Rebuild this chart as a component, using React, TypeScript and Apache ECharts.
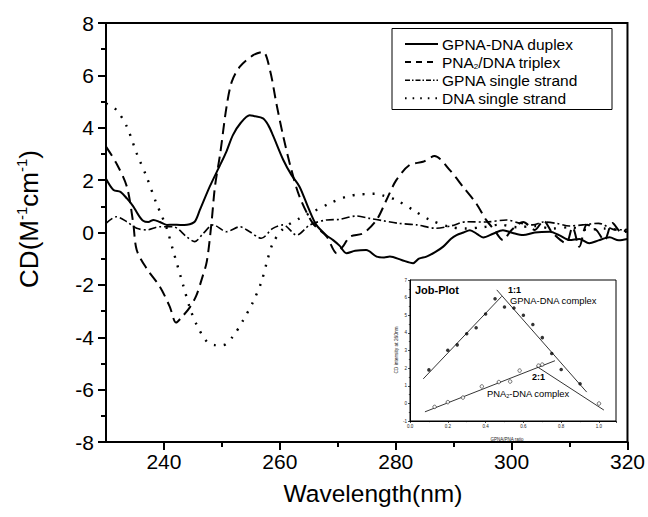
import React, { useEffect, useRef } from 'react';
import * as echarts from 'echarts';

// ---------- Main CD spectra data ----------
const xMajorTicks = [240, 260, 280, 300, 320];
const xMinorTicks = [250, 270, 290, 310];
const seriesNames = ['GPNA-DNA duplex', 'PNA2/DNA triplex', 'GPNA single strand', 'DNA single strand'];

const duplex: number[][] = [
  [230, 2.05], [231.3, 1.62], [232.5, 1.55], [233.6, 1.3], [234.7, 1.0], [235.5, 0.7], [236.4, 0.45],
  [237.3, 0.4], [238.2, 0.48], [239.3, 0.4], [240.5, 0.29], [241.6, 0.3], [242.8, 0.29], [244, 0.3],
  [245.3, 0.41], [246.2, 0.86], [247.9, 1.75], [249.7, 2.58], [250.8, 3.1], [251.9, 3.72], [253.3, 4.2],
  [254.8, 4.48], [255.5, 4.45], [257.1, 4.36], [258, 4.1], [258.8, 3.72], [260.6, 2.77], [262, 2.2],
  [263.4, 1.75], [265, 0.9], [266.3, 0.29], [268, -0.1], [269.2, -0.29], [270.3, -0.5], [271.5, -0.79],
  [273, -0.7], [274.9, -0.67], [276.7, -0.92], [278, -0.95], [279, -0.92], [281, -1.05], [283, -1.17],
  [284, -1.0], [285.3, -0.92], [286.8, -0.75], [288.2, -0.54], [289.5, -0.25], [290.5, -0.1], [291.7, 0.0],
  [292.8, 0.09], [294, -0.05], [295.1, -0.19], [296.8, -0.05], [298.5, 0.09], [300.2, -0.02], [302, -0.1],
  [304, 0.0], [306.6, 0.03], [308.2, -0.1], [310, -0.29], [311.7, -0.25], [313.4, -0.41], [315, -0.3],
  [316.9, -0.18], [318.5, -0.3], [320, -0.25],
];

const triplex: number[][] = [
  [230, 3.28], [231.8, 2.64], [233.6, 1.75], [234.7, 0.35], [235.3, -0.67], [237, -1.37], [239.3, -2.07],
  [241, -2.83], [242.1, -3.44], [243, -3.25], [244.5, -2.85], [245.6, -2.4], [246.5, -1.8], [247.4, -1.1],
  [248.2, 0.35], [248.8, 1.75], [249.7, 3.0], [250.8, 4.8], [251.7, 5.75], [253.1, 6.33], [255.4, 6.77],
  [257.1, 6.9], [258.3, 6.2], [259.4, 4.93], [260.6, 3.66], [262, 2.39], [263.4, 1.37], [265.7, 0.35],
  [268.1, -0.16], [269.8, -0.79], [271, -0.5], [272.1, -0.16], [274.4, -0.03], [276.7, 0.48], [278.4, 1.24],
  [280.1, 2.0], [282.4, 2.58], [284.7, 2.7], [286.7, 2.92], [289.3, 2.39], [291.6, 1.75], [293.9, 1.11],
  [295.6, 0.48], [297, 0.1], [298.5, -0.29], [300, 0.1], [302, 0.4], [304, 0.1], [305.5, 0.45], [307, 0.0],
  [309.4, -0.41], [310.5, 0.2], [311.7, -0.54], [313, 0.3], [314.6, 0.1], [316, -0.3], [317.4, 0.36],
  [319, 0.0], [320, 0.05],
];

const gpnaSingle: number[][] = [
  [230, 0.35], [231.8, 0.6], [233.6, 0.41], [235.3, 0.16], [237, 0.1], [239.3, 0.22], [241.6, 0.22],
  [243.9, -0.16], [245.3, -0.35], [246.8, -0.03], [248.5, 0.29], [250.8, 0.03], [253.1, 0.22], [254.8, 0.03],
  [256.8, -0.22], [258.8, 0.16], [260.6, 0.29], [262.9, -0.1], [265.2, 0.29], [268.1, 0.48], [270.3, 0.5],
  [273.2, 0.63], [275.5, 0.54], [277.8, 0.45], [280.5, 0.35], [283.6, 0.29], [287, 0.16], [289.5, 0.25],
  [292.2, 0.41], [295.5, 0.4], [299.1, 0.48], [301.5, 0.35], [303.7, 0.29], [305.5, 0.4], [307.7, 0.35],
  [310, 0.25], [312.3, 0.29], [315, 0.35], [318, 0.1], [320, 0.12],
];

const dnaSingle: number[][] = [
  [230, 4.93], [231.8, 4.68], [233.6, 4.04], [235.3, 3.02], [237, 2.13], [238.7, 1.11], [239.5, 0.7],
  [240.5, 0.15], [241.6, -0.7], [243.3, -2.0], [244.5, -2.9], [245.6, -3.5], [247.4, -4.17], [248.8, -4.3],
  [250.2, -4.3], [251.9, -3.97], [253.7, -3.34], [255.4, -2.64], [256.8, -1.9], [257.8, -1.1], [258.8, -0.41],
  [260.6, 0.15], [263.4, 0.54], [265.7, 0.79], [268.6, 1.11], [271.5, 1.37], [273.5, 1.45], [275, 1.47],
  [276.5, 1.48], [278, 1.4], [280.1, 1.24], [283, 0.86], [285.9, 0.48], [289.3, 0.22], [292, 0.15],
  [295, 0.2], [298, 0.3], [301, 0.2], [304, 0.25], [307, 0.15], [310, 0.2], [313, 0.1], [316, 0.15], [320, 0.05],
];

// ---------- Inset (Job plot) data ----------
const jobFilled: number[][] = [
  [0.1, 1.9], [0.2, 3.02], [0.25, 3.32], [0.3, 3.95], [0.35, 4.29], [0.4, 5.07], [0.45, 5.93], [0.5, 5.47],
  [0.55, 5.41], [0.6, 5.0], [0.65, 4.48], [0.7, 3.73], [0.75, 2.83], [0.8, 1.92], [0.9, 1.11],
];
const jobOpen: number[][] = [
  [0.13, -0.2], [0.2, 0.07], [0.28, 0.33], [0.38, 0.96], [0.47, 1.21], [0.53, 1.24], [0.58, 1.86],
  [0.68, 2.14], [0.7, 2.2], [1.0, -0.01],
];
const fitFilledUp: number[][] = [[0.07, 1.39], [0.485, 6.07]];
const fitFilledDown: number[][] = [[0.459, 6.44], [0.935, 0.64]];
const fitOpenUp: number[][] = [[0.079, -0.48], [0.767, 2.42]];
const fitOpenDown: number[][] = [[0.67, 2.1], [1.026, -0.38]];

const FONT = '"Liberation Sans", Arial, Helvetica, sans-serif';

const dashTriplex = [11, 6];
const dashGpna = [8, 3, 2, 3];
const dashDna = [2, 8];

export default function App() {
  const ref = useRef<HTMLDivElement>(null);
  useEffect(() => {
    const chart = echarts.init(ref.current!, null, { renderer: 'svg' });
    const black = '#000';
    const lineSeries = (name: string, data: number[][], type: any, width: number) => ({
      name,
      type: 'line',
      data,
      xAxisIndex: 0,
      yAxisIndex: 0,
      showSymbol: false,
      symbol: 'none',
      smooth: 0.3,
      lineStyle: { color: black, width, type },
      itemStyle: { color: black },
      z: 3,
    });
    const fit = (data: number[][]) => ({
      type: 'line',
      data,
      xAxisIndex: 2,
      yAxisIndex: 1,
      symbol: 'none',
      showSymbol: false,
      lineStyle: { color: black, width: 0.8 },
      silent: true,
      z: 7,
    });

    // legend drawn as graphic elements
    const legendTop = 44;
    const legendStep = 18.1;
    const legendStyles = [
      { lineWidth: 2 },
      { lineWidth: 2, lineDash: [6, 5] },
      { lineWidth: 1.6, lineDash: [5, 2, 1.5, 2] },
      { lineWidth: 2, lineDash: [1.6, 6] },
    ];
    const legendGraphics: any[] = [
      {
        type: 'rect', z: 30,
        shape: { x: 392, y: 28.5, width: 220, height: 81 },
        style: { fill: '#fff', stroke: black, lineWidth: 1 },
      },
    ];
    seriesNames.forEach((name, i) => {
      const y = legendTop + i * legendStep;
      legendGraphics.push({
        type: 'line', z: 31,
        shape: { x1: 405, y1: y, x2: 438, y2: y },
        style: { stroke: black, ...legendStyles[i] },
      });
      const text = name === 'PNA2/DNA triplex' ? '{t|PNA}{s|2}{t|/DNA triplex}' : '{t|' + name + '}';
      legendGraphics.push({
        type: 'text', z: 31, x: 442, y,
        style: {
          text, align: 'left', verticalAlign: 'middle', fill: black,
          rich: {
            t: { fontSize: 15.5, fontFamily: FONT, fill: black, lineHeight: 18 },
            s: { fontSize: 8, fontFamily: FONT, fill: black, lineHeight: 18, verticalAlign: 'bottom', padding: [0, 0, 1, 0] },
          },
        },
      });
    });

    const option: any = {
      animation: false,
      backgroundColor: '#fff',
      textStyle: { fontFamily: FONT, color: black },
      grid: [
        { left: 106, top: 23, right: 20, bottom: 75, show: true, borderColor: black, borderWidth: 2, backgroundColor: 'transparent' },
        { left: 410, top: 280, width: 206, height: 141, show: true, borderColor: black, borderWidth: 1, backgroundColor: '#fff', z: 5 },
      ],
      xAxis: [
        {
          type: 'value', gridIndex: 0, min: 230, max: 320, position: 'bottom',
          axisLine: { onZero: false, lineStyle: { color: black, width: 2 } },
          axisTick: { length: 8, lineStyle: { color: black, width: 2 }, customValues: xMajorTicks },
          axisLabel: { fontSize: 21, color: black, margin: 9, fontFamily: FONT, customValues: xMajorTicks },
          splitLine: { show: false },
        },
        {
          type: 'value', gridIndex: 0, min: 230, max: 320, position: 'bottom',
          axisLine: { show: false, onZero: false },
          axisTick: { length: 5, lineStyle: { color: black, width: 2 }, customValues: xMinorTicks },
          axisLabel: { show: false },
          splitLine: { show: false },
        },
        {
          type: 'value', gridIndex: 1, min: 0, max: 1.09, interval: 0.2, position: 'bottom',
          axisLine: { onZero: false, lineStyle: { color: black, width: 1 } },
          axisTick: { length: 2, lineStyle: { color: black, width: 0.7 } },
          minorTick: { show: true, splitNumber: 2, length: 1.2, lineStyle: { color: black, width: 0.6 } },
          axisLabel: { fontSize: 4.5, color: '#222', margin: 3, showMaxLabel: false, fontFamily: FONT, formatter: (v: number) => v.toFixed(1) },
          splitLine: { show: false },
          z: 6,
        },
      ],
      yAxis: [
        {
          type: 'value', gridIndex: 0, min: -8, max: 8, interval: 2,
          axisLine: { onZero: false, lineStyle: { color: black, width: 2 } },
          axisTick: { length: 8, lineStyle: { color: black, width: 2 } },
          minorTick: { show: true, splitNumber: 2, length: 5, lineStyle: { color: black, width: 2 } },
          axisLabel: { fontSize: 21, color: black, margin: 12, fontFamily: FONT },
          splitLine: { show: false },
        },
        {
          type: 'value', gridIndex: 1, min: -1, max: 7, interval: 1,
          axisLine: { onZero: false, lineStyle: { color: black, width: 1 } },
          axisTick: { length: 2, lineStyle: { color: black, width: 0.7 } },
          minorTick: { show: true, splitNumber: 2, length: 1.2, lineStyle: { color: black, width: 0.6 } },
          axisLabel: { fontSize: 4.5, color: '#222', margin: 3, fontFamily: FONT },
          splitLine: { show: false },
          z: 6,
        },
      ],
      series: [
        lineSeries(seriesNames[0], duplex, 'solid', 2),
        lineSeries(seriesNames[1], triplex, dashTriplex, 2),
        lineSeries(seriesNames[2], gpnaSingle, dashGpna, 1.6),
        lineSeries(seriesNames[3], dnaSingle, dashDna, 2.4),
        {
          name: 'GPNA-DNA complex points', type: 'scatter', data: jobFilled, xAxisIndex: 2, yAxisIndex: 1,
          symbol: 'circle', symbolSize: 3.5, itemStyle: { color: black }, z: 8, silent: true,
        },
        {
          name: 'PNA2-DNA complex points', type: 'scatter', data: jobOpen, xAxisIndex: 2, yAxisIndex: 1,
          symbol: 'circle', symbolSize: 3.5, itemStyle: { color: '#fff', borderColor: black, borderWidth: 0.7 }, z: 8, silent: true,
        },
        fit(fitFilledUp),
        fit(fitFilledDown),
        fit(fitOpenUp),
        fit(fitOpenDown),
      ],
      graphic: [
        ...legendGraphics,
        {
          type: 'text', x: 27, y: 219, rotation: Math.PI / 2, z: 20,
          style: {
            text: '{a|CD(M}{b|-1}{a|cm}{b|-1}{a|)}',
            align: 'center', verticalAlign: 'middle', fill: black,
            rich: {
              a: { fontSize: 26, fontFamily: FONT, fill: black, lineHeight: 30, verticalAlign: 'bottom' },
              b: { fontSize: 15, fontFamily: FONT, fill: black, lineHeight: 30, verticalAlign: 'top', padding: [2, 0, 0, 0] },
            },
          },
        },
        {
          type: 'text', x: 373, y: 493, z: 20,
          style: { text: 'Wavelength(nm)', fontSize: 24.5, fontFamily: FONT, fill: black, align: 'center', verticalAlign: 'middle' },
        },
        {
          type: 'text', x: 396, y: 350, rotation: Math.PI / 2, z: 20,
          style: { text: 'CD intensity at 260nm', fontSize: 4.8, fontFamily: FONT, fill: '#222', align: 'center', verticalAlign: 'middle' },
        },
        {
          type: 'text', x: 507, y: 439, z: 20,
          style: { text: 'GPNA/PNA ratio', fontSize: 4.5, fontFamily: FONT, fill: '#222', align: 'center', verticalAlign: 'middle' },
        },
        {
          type: 'text', x: 415, y: 290, z: 20,
          style: { text: 'Job-Plot', fontSize: 11, fontWeight: 'bold', fontFamily: FONT, fill: black, align: 'left', verticalAlign: 'middle' },
        },
        {
          type: 'text', x: 508, y: 290, z: 20,
          style: { text: '1:1', fontSize: 9, fontWeight: 'bold', fontFamily: FONT, fill: black, align: 'left', verticalAlign: 'middle' },
        },
        {
          type: 'text', x: 510, y: 300, z: 20,
          style: { text: 'GPNA-DNA complex', fontSize: 9.4, fontFamily: FONT, fill: black, align: 'left', verticalAlign: 'middle' },
        },
        {
          type: 'text', x: 532, y: 377, z: 20,
          style: { text: '2:1', fontSize: 9, fontWeight: 'bold', fontFamily: FONT, fill: black, align: 'left', verticalAlign: 'middle' },
        },
        {
          type: 'text', x: 487, y: 393, z: 20,
          style: {
            text: '{t|PNA}{s|2}{t|-DNA complex}', align: 'left', verticalAlign: 'middle', fill: black,
            rich: {
              t: { fontSize: 9.4, fontFamily: FONT, fill: black, lineHeight: 11 },
              s: { fontSize: 5.5, fontFamily: FONT, fill: black, lineHeight: 11, verticalAlign: 'bottom', padding: [3, 0, 0, 0] },
            },
          },
        },
      ],
    };
    chart.setOption(option);
    return () => chart.dispose();
  }, []);
  return <div ref={ref} style={{ position: 'fixed', left: 0, top: 0, width: 648, height: 517 }} />;
}
